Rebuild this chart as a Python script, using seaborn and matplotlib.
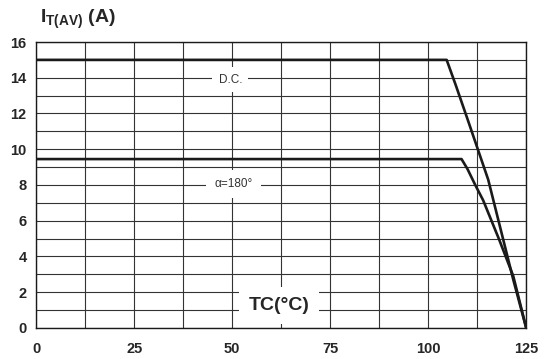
import numpy as np
import pandas as pd
import matplotlib
matplotlib.use("Agg")
import matplotlib.pyplot as plt
import seaborn as sns

# values
tc_dc = [0, 104.7, 107, 110, 115.3, 118.5, 121.7, 125]
it_dc = [15, 15, 13.6, 11.7, 8.3, 5.5, 2.7, 0]
tc_180 = [0, 108.5, 110, 112, 114, 118, 121.7, 125]
it_180 = [9.45, 9.45, 8.9, 8.0, 7.15, 5.0, 2.9, 0]
x_ticks = [0, 25, 50, 75, 100, 125]
y_ticks = [0, 2, 4, 6, 8, 10, 12, 14, 16]

df = pd.concat([
    pd.DataFrame({"Tc": tc_dc, "It": it_dc, "case": "D.C."}),
    pd.DataFrame({"Tc": tc_180, "It": it_180, "case": "a180"}),
])

sns.set_style("white")
plt.rcParams["font.family"] = ["Liberation Sans", "DejaVu Sans"]
plt.rcParams["mathtext.fontset"] = "custom"
plt.rcParams["mathtext.rm"] = "Liberation Sans"
plt.rcParams["mathtext.bf"] = "Liberation Sans:bold"

fig = plt.figure(figsize=(5.47, 3.59), dpi=100)
ax = fig.add_axes([0.0664, 0.0864, 0.8956, 0.7966])

# grid
for gx in np.arange(0, 125.1, 12.5):
    ax.axvline(gx, color="#333333", lw=0.8, zorder=1)
for gy in range(0, 17):
    ax.axhline(gy, color="#333333", lw=0.8, zorder=1)

sns.lineplot(data=df, x="Tc", y="It", units="case", estimator=None,
             color="#1a1a1a", lw=1.9, ax=ax, zorder=4, sort=False)

ax.set_xlim(0, 125)
ax.set_ylim(0, 16)
ax.set_xticks(x_ticks)
ax.set_yticks(y_ticks)
ax.set_xticklabels([str(v) for v in x_ticks], fontsize=10.5, fontweight="bold")
ax.set_yticklabels([str(v) for v in y_ticks], fontsize=10.5, fontweight="bold")
ax.tick_params(axis="x", length=0, pad=10)
ax.tick_params(axis="y", length=0, pad=7)
ax.set_xlabel("")
ax.set_ylabel("")
for s in ax.spines.values():
    s.set_color("#1a1a1a")
    s.set_linewidth(1.0)

# inline labels with white boxes
ax.text(49.5, 13.9, "D.C.", fontsize=8.5, color="#333333", ha="center", va="center",
        zorder=3, bbox=dict(facecolor="white", edgecolor="none", pad=4.5))
ax.text(50.3, 8.05, "\u03b1=180\u00b0", fontsize=8.5, color="#333333", ha="center",
        va="center", zorder=3,
        bbox=dict(facecolor="white", edgecolor="none", pad=6))
ax.text(62.0, 1.25, "TC(\u00b0C)", fontsize=14, fontweight="bold", ha="center",
        va="center", zorder=3,
        bbox=dict(facecolor="white", edgecolor="none", pad=7))

fig.text(0.073, 0.945, r"$\mathbf{I}_{\mathbf{T(AV)}}$ (A)", fontsize=14,
         fontweight="bold", ha="left", va="center")

fig.savefig("out.png", dpi=100)
